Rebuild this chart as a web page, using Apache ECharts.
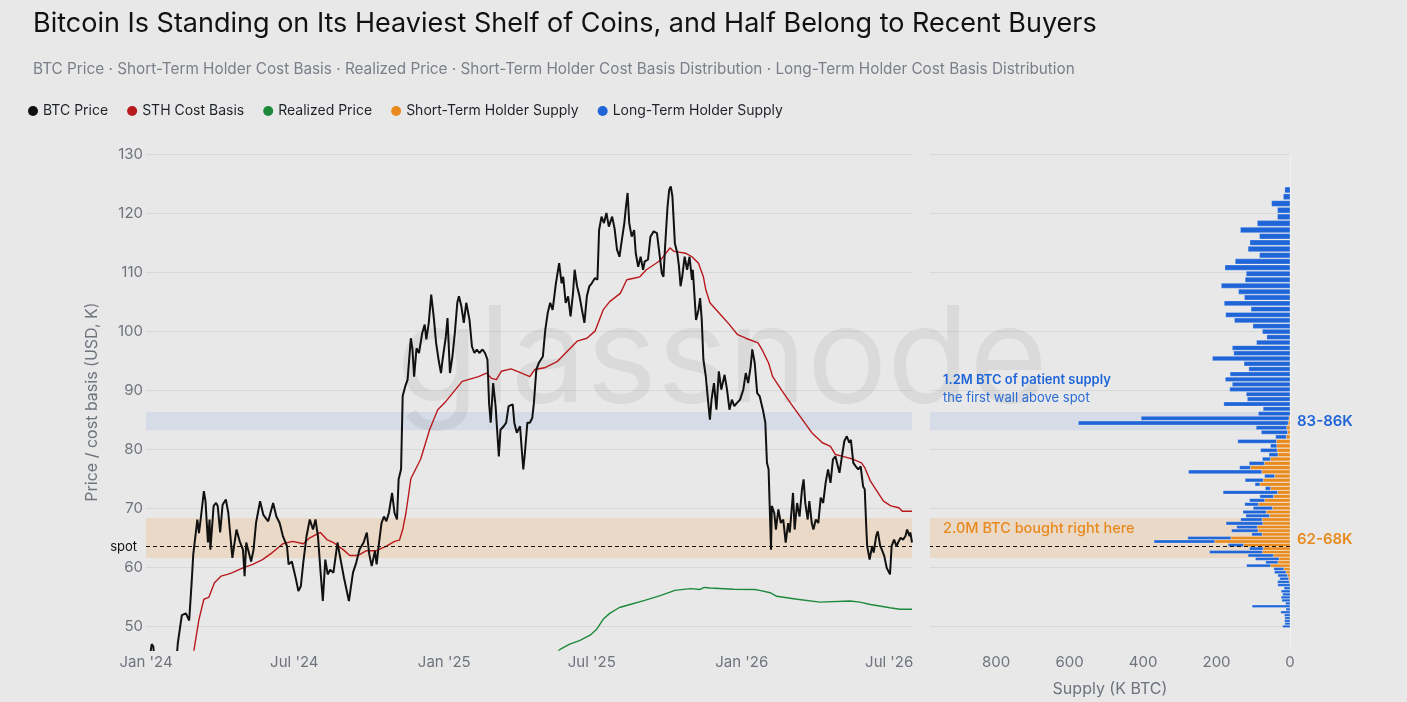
<!DOCTYPE html>
<html>
<head>
<meta charset="utf-8">
<title>Bitcoin heaviest shelf of coins</title>
<script src="https://cdn.jsdelivr.net/npm/echarts@6/dist/echarts.min.js"></script>
<style>
  html, body { margin: 0; padding: 0; background: #e8e8e8; }
  #chart { width: 1407px; height: 702px; }
</style>
</head>
<body>
<div id="chart"></div>
<script>
// ---- data (K USD, K BTC) ----
const btcDates = [
  '2024-01-01','2024-01-05','2024-01-08','2024-01-10','2024-01-12','2024-01-18','2024-01-23','2024-01-29','2024-02-05','2024-02-08',
  '2024-02-09','2024-02-12','2024-02-14','2024-02-19','2024-02-23','2024-02-26','2024-02-28','2024-03-01','2024-03-04','2024-03-06',
  '2024-03-09','2024-03-12','2024-03-14','2024-03-17','2024-03-19','2024-03-20','2024-03-24','2024-03-27','2024-03-29','2024-04-01',
  '2024-04-04','2024-04-08','2024-04-11','2024-04-16','2024-04-21','2024-04-25','2024-04-29','2024-05-01','2024-05-03','2024-05-09',
  '2024-05-12','2024-05-15','2024-05-20','2024-05-24','2024-05-30','2024-06-05','2024-06-09','2024-06-13','2024-06-17','2024-06-22',
  '2024-06-24','2024-06-28','2024-07-03','2024-07-06','2024-07-09','2024-07-12','2024-07-16','2024-07-20','2024-07-24','2024-07-27',
  '2024-07-30','2024-08-02','2024-08-05','2024-08-08','2024-08-11','2024-08-14','2024-08-18','2024-08-23','2024-08-26','2024-08-31',
  '2024-09-02','2024-09-06','2024-09-11','2024-09-15','2024-09-19','2024-09-24','2024-09-28','2024-10-01','2024-10-04','2024-10-08',
  '2024-10-10','2024-10-13','2024-10-16','2024-10-19','2024-10-22','2024-10-25','2024-10-29','2024-11-01','2024-11-04','2024-11-06',
  '2024-11-09','2024-11-11','2024-11-14','2024-11-17','2024-11-21','2024-11-23','2024-11-25','2024-11-28','2024-12-01','2024-12-05',
  '2024-12-08','2024-12-10','2024-12-13','2024-12-16','2024-12-19','2024-12-22','2024-12-25','2024-12-28','2024-12-30','2025-01-03',
  '2025-01-05','2025-01-08','2025-01-11','2025-01-14','2025-01-17','2025-01-19','2025-01-22','2025-01-25','2025-01-28','2025-02-01',
  '2025-02-04','2025-02-07','2025-02-10','2025-02-13','2025-02-17','2025-02-20','2025-02-23','2025-02-25','2025-02-27','2025-03-02',
  '2025-03-05','2025-03-09','2025-03-11','2025-03-15','2025-03-18','2025-03-21','2025-03-26','2025-03-28','2025-03-31','2025-04-04',
  '2025-04-07','2025-04-08','2025-04-10','2025-04-13','2025-04-16','2025-04-19','2025-04-21','2025-04-24','2025-04-27','2025-05-02',
  '2025-05-05','2025-05-08','2025-05-11','2025-05-14','2025-05-18','2025-05-22','2025-05-25','2025-05-27','2025-05-30','2025-06-02',
  '2025-06-05','2025-06-08','2025-06-10','2025-06-13','2025-06-16','2025-06-19','2025-06-22','2025-06-25','2025-06-28','2025-07-01',
  '2025-07-05','2025-07-08','2025-07-10','2025-07-13','2025-07-16','2025-07-19','2025-07-22','2025-07-26','2025-07-29','2025-08-01',
  '2025-08-04','2025-08-07','2025-08-10','2025-08-12','2025-08-14','2025-08-16','2025-08-19','2025-08-22','2025-08-24','2025-08-27',
  '2025-08-30','2025-09-02','2025-09-04','2025-09-08','2025-09-11','2025-09-15','2025-09-19','2025-09-22','2025-09-25','2025-09-27',
  '2025-09-29','2025-10-02','2025-10-04','2025-10-06','2025-10-08','2025-10-11','2025-10-14','2025-10-16','2025-10-18','2025-10-20',
  '2025-10-23','2025-10-26','2025-10-29','2025-11-01','2025-11-02','2025-11-06','2025-11-09','2025-11-11','2025-11-13','2025-11-15',
  '2025-11-18','2025-11-21','2025-11-23','2025-11-25','2025-11-28','2025-12-01','2025-12-04','2025-12-07','2025-12-11','2025-12-14',
  '2025-12-17','2025-12-20','2025-12-23','2025-12-26','2025-12-30','2026-01-03','2026-01-06','2026-01-09','2026-01-12','2026-01-14',
  '2026-01-17','2026-01-20','2026-01-23','2026-01-27','2026-01-30','2026-02-01','2026-02-03','2026-02-06','2026-02-07','2026-02-10',
  '2026-02-12','2026-02-15','2026-02-18','2026-02-21','2026-02-24','2026-02-27','2026-03-01','2026-03-05','2026-03-07','2026-03-10',
  '2026-03-13','2026-03-16','2026-03-18','2026-03-20','2026-03-23','2026-03-25','2026-03-28','2026-03-30','2026-04-02','2026-04-05',
  '2026-04-08','2026-04-11','2026-04-14','2026-04-17','2026-04-20','2026-04-23','2026-04-26','2026-04-29','2026-05-01','2026-05-04',
  '2026-05-07','2026-05-10','2026-05-13','2026-05-15','2026-05-18','2026-05-21','2026-05-24','2026-05-27','2026-05-30','2026-06-01',
  '2026-06-03','2026-06-04','2026-06-07','2026-06-10','2026-06-12','2026-06-15','2026-06-17','2026-06-20','2026-06-22','2026-06-25',
  '2026-06-28','2026-06-30','2026-07-02','2026-07-04','2026-07-07','2026-07-10','2026-07-12','2026-07-15','2026-07-18','2026-07-21',
  '2026-07-23','2026-07-26','2026-07-27','2026-07-29'
];
const btcPrice = [
  44.2,44.1,47.0,46.6,42.8,41.3,39.9,43.3,42.6,45.3,
  47.1,50.0,51.9,52.2,51.0,57.4,62.2,62.2,68.1,65.8,
  69.2,72.9,71.2,64.2,68.1,63.0,70.4,70.9,70.4,65.9,
  70.6,71.5,69.2,61.6,66.4,64.4,63.0,58.5,64.2,61.0,
  63.0,67.5,71.2,68.9,67.8,70.9,68.6,67.5,65.3,63.6,
  60.5,61.0,58.0,56.0,56.8,60.8,65.3,68.1,66.4,68.1,
  65.3,59.6,54.3,61.3,58.8,59.6,59.1,64.2,61.9,58.2,
  58.0,54.3,59.1,60.8,63.0,64.2,65.9,62.2,60.2,62.8,
  60.5,64.2,67.5,68.6,67.8,69.2,72.6,69.2,68.1,74.9,
  76.6,89.0,90.6,91.8,98.8,96.9,92.3,97.1,96.3,99.7,
  101.1,98.6,101.4,106.2,102.5,98.0,95.2,92.9,95.2,99.1,
  102.2,92.9,95.7,99.7,104.8,105.9,104.2,101.4,104.8,101.9,
  97.4,96.3,96.9,96.3,96.9,96.3,95.2,87.8,84.5,91.2,
  87.3,78.8,83.3,83.9,84.5,87.3,87.6,84.5,82.8,83.9,
  78.3,76.6,79.4,84.5,84.5,85.3,87.8,93.5,94.6,95.7,
  100.2,103.1,104.8,103.6,108.1,111.5,108.1,109.2,104.8,105.9,
  102.5,106.4,110.4,107.6,105.9,103.6,101.4,105.9,107.6,108.1,
  109.0,108.7,117.1,119.4,118.3,120.0,117.7,119.4,117.4,113.8,
  112.6,115.5,118.3,121.1,123.4,118.3,116.0,117.1,113.2,110.9,
  112.6,110.4,111.8,112.1,116.0,116.9,116.6,113.2,109.8,109.2,
  114.3,121.1,123.9,124.5,122.8,114.9,113.2,111.0,107.6,109.2,
  112.6,110.4,112.6,108.7,110.4,101.9,103.6,105.6,101.9,95.2,
  92.3,87.8,85.0,88.4,91.2,86.7,93.2,90.1,92.6,90.1,
  86.7,88.4,87.3,87.8,88.4,90.1,92.9,91.2,94.0,96.9,
  94.6,89.5,89.0,86.7,84.5,77.7,76.6,63.0,70.4,69.2,
  66.4,69.8,67.5,68.1,64.2,67.5,65.9,72.6,66.4,70.9,
  68.6,73.2,74.9,70.9,68.1,71.2,67.5,66.4,68.1,67.5,
  71.8,70.9,74.3,76.6,74.3,78.3,78.8,77.1,76.0,78.8,
  81.4,82.2,81.1,81.6,77.7,77.1,76.6,77.1,73.7,73.2,
  66.4,63.6,61.3,63.6,62.5,65.3,66.1,63.6,63.0,61.9,
  59.9,59.9,58.8,63.6,64.7,63.6,64.2,65.0,64.7,65.3,
  66.4,65.3,65.9,64.2
];

const sthDates = [
  '2024-02-22','2024-02-29','2024-03-06','2024-03-12','2024-03-18','2024-03-25','2024-04-02','2024-04-10','2024-04-16','2024-04-29',
  '2024-05-11','2024-05-23','2024-06-04','2024-06-17','2024-06-29','2024-07-12','2024-07-20','2024-08-02','2024-08-10','2024-08-18',
  '2024-08-30','2024-09-07','2024-09-17','2024-09-27','2024-10-09','2024-10-22','2024-11-01','2024-11-07','2024-11-11','2024-11-15',
  '2024-11-21','2024-12-03','2024-12-14','2024-12-24','2025-01-03','2025-01-23','2025-02-12','2025-02-22','2025-02-28','2025-03-06',
  '2025-03-12','2025-03-24','2025-04-06','2025-04-16','2025-04-22','2025-05-04','2025-05-20','2025-06-01','2025-06-13','2025-06-25',
  '2025-07-05','2025-07-15','2025-07-23','2025-08-05','2025-08-13','2025-08-23','2025-08-29','2025-09-06','2025-09-18','2025-09-24',
  '2025-09-30','2025-10-05','2025-10-10','2025-10-24','2025-11-01','2025-11-09','2025-11-15','2025-11-18','2025-11-23','2025-12-04',
  '2025-12-17','2025-12-27','2026-01-06','2026-01-21','2026-01-27','2026-02-03','2026-02-08','2026-02-20','2026-03-03','2026-03-15',
  '2026-03-28','2026-04-10','2026-04-20','2026-04-26','2026-05-05','2026-05-18','2026-05-28','2026-06-01','2026-06-08','2026-06-16',
  '2026-06-24','2026-07-03','2026-07-13','2026-07-17','2026-07-29'
];
const sthCost = [
  42.0,46.1,51.2,54.6,54.9,57.4,58.5,58.8,59.1,59.9,
  60.5,61.3,62.5,64.0,64.4,64.0,65.0,65.9,64.7,64.2,
  63.0,62.0,62.0,62.8,62.8,63.6,64.4,64.6,66.4,69.2,
  75.0,78.3,83.3,86.7,88.1,91.5,92.3,92.9,92.0,91.8,
  93.2,93.6,92.9,92.3,93.5,93.8,94.9,96.6,98.3,98.8,
  100.0,103.6,105.0,106.4,108.7,109.0,109.2,110.4,111.5,112.1,
  113.2,114.1,113.5,113.2,112.6,111.5,109.2,107.0,104.8,103.1,
  101.1,99.4,98.8,98.0,96.6,94.6,92.3,89.8,87.6,85.3,
  82.8,81.1,80.5,79.1,78.8,78.3,77.7,76.9,74.6,72.9,
  71.2,70.4,70.1,69.5,69.5
];

const rpDates = [
  '2025-05-15','2025-05-23','2025-06-04','2025-06-16','2025-06-29','2025-07-07','2025-07-15','2025-07-23','2025-08-04','2025-08-17',
  '2025-09-04','2025-09-23','2025-10-11','2025-10-30','2025-11-11','2025-11-16','2025-11-23','2025-12-22','2026-01-17','2026-01-23',
  '2026-02-05','2026-02-13','2026-03-10','2026-04-07','2026-05-14','2026-05-26','2026-06-08','2026-07-02','2026-07-14','2026-07-29'
];
const realizedPrice = [
  45.0,46.1,47.0,47.6,48.5,49.5,51.2,52.2,53.2,53.7,
  54.4,55.2,56.1,56.4,56.25,56.6,56.5,56.3,56.25,56.1,
  55.7,55.1,54.6,54.1,54.3,54.1,53.7,53.15,52.9,52.9
];

// cost-basis bins (bin centre price, K USD), bottom to top
const binCenters = [
  50.00,50.47,50.94,51.42,51.91,52.40,52.89,53.39,53.89,54.40,
  54.91,55.42,55.94,56.47,57.00,57.54,58.08,58.62,59.17,59.73,
  60.29,60.86,61.43,62.01,62.59,63.18,63.77,64.37,64.98,65.59,
  66.21,66.82,67.45,68.09,68.73,69.37,70.03,70.68,71.35,72.02,
  72.70,73.37,74.06,74.76,75.46,76.17,76.89,77.61,78.34,79.08,
  79.82,80.57,81.33,82.09,82.87,83.65,84.43,85.23,86.03,86.84,
  87.65,88.48,89.31,90.15,91.00,91.85,92.72,93.59,94.47,95.36,
  96.25,97.16,98.07,98.99,99.92,100.86,101.81,102.77,103.73,104.71,
  105.69,106.69,107.69,108.70,109.72,110.76,111.80,112.85,113.91,114.98,
  116.06,117.14,118.25,119.36,120.48,121.61,122.76,123.91
];
const sthSupply = [
  0,0,0,0,0,0,0,0,0,0,
  0,0,0,0,0,2,4,7,11,17,
  53,33,30,45,75,73,127,205,161,76,
  87,89,74,76,56,65,48,86,69,45,
  34,53,82,73,42,77,108,70,53,33,
  35,36,37,10,7,9,5,3,0,0,
  0,0,0,0,0,0,0,0,0,0,
  0,0,0,0,0,0,0,0,0,0,
  0,0,0,0,0,0,0,0,0,0,
  0,0,0,0,0,0,0,0
];
const lthSupply = [
  20,14,15,14,15,25,11,103,12,22,
  24,20,24,16,33,32,24,26,31,27,
  65,33,64,69,144,37,41,165,117,28,
  72,56,100,58,64,63,52,37,41,37,
  148,14,13,49,27,199,29,41,22,24,
  45,17,105,29,71,83,571,402,86,73,
  180,116,119,164,157,176,163,112,125,211,
  153,157,91,63,75,101,151,175,106,179,
  124,140,187,122,119,177,149,83,114,109,
  83,135,89,34,34,50,18,14
];

const xTickDates = ['2024-01-01','2024-07-01','2025-01-01','2025-07-01','2026-01-01','2026-07-01'];
const spotPrice = 63.5;
const lthWall = [83.2, 86.3];   // 83-86K band
const sthShelf = [61.6, 68.35]; // 62-68K band

// ---- helpers ----
const FONT = 'Inter, "Noto Sans", sans-serif';
const MONTHS = ['Jan','Feb','Mar','Apr','May','Jun','Jul','Aug','Sep','Oct','Nov','Dec'];
const BIN_STEP = 0.0094;
function toTs(s) {
  const p = s.split('-').map(Number);
  return Date.UTC(p[0], p[1] - 1, p[2]);
}
function zip(dates, vals) { return dates.map((d, i) => [toTs(d), vals[i]]); }

const sthBars = binCenters.map((c, i) => [c, 0, sthSupply[i]]);
const lthBars = binCenters.map((c, i) => [c, sthSupply[i], sthSupply[i] + lthSupply[i]]);

function renderBin(params, api) {
  const c = api.value(0), from = api.value(1), to = api.value(2);
  if (!(to > from)) return null;
  const h = c * BIN_STEP * 0.42;
  const a = api.coord([from, c + h]);
  const b = api.coord([to, c - h]);
  return {
    type: 'rect',
    shape: { x: Math.min(a[0], b[0]), y: a[1], width: Math.abs(b[0] - a[0]), height: b[1] - a[1] },
    style: api.style({ stroke: 'rgba(255,255,255,0.45)', lineWidth: 0.6 })
  };
}

const GRID_TOP = 154, GRID_BOTTOM = 52;
const labelGrey = '#6e737c';

const chart = echarts.init(document.getElementById('chart'));
chart.setOption({
  animation: false,
  backgroundColor: '#e8e8e8',
  textStyle: { fontFamily: FONT },
  title: [
    { text: 'Bitcoin Is Standing on Its Heaviest Shelf of Coins, and Half Belong to Recent Buyers',
      left: 28, top: 5, textStyle: { fontSize: 27, fontWeight: 'normal', color: '#111111', fontFamily: FONT } },
    { text: 'BTC Price · Short-Term Holder Cost Basis · Realized Price · Short-Term Holder Cost Basis Distribution · Long-Term Holder Cost Basis Distribution',
      left: 28, top: 57, textStyle: { fontSize: 15.3, fontWeight: 'normal', color: '#7a7f88', fontFamily: FONT } }
  ],
  legend: {
    left: 23, top: 99, icon: 'circle', itemWidth: 10, itemHeight: 10, itemGap: 19,
    textStyle: { fontSize: 14, color: '#1f2329', fontFamily: FONT },
    data: ['BTC Price', 'STH Cost Basis', 'Realized Price', 'Short-Term Holder Supply', 'Long-Term Holder Supply']
  },
  graphic: [
    { type: 'text', silent: true, z: 1.5, x: 722, y: 362,
      style: { text: 'glassnode', font: '400 134px Inter', fill: 'rgba(0,0,0,0.06)', align: 'center', verticalAlign: 'middle' } },
    { type: 'text', silent: true, z: 10, x: 943, y: 380,
      style: { text: '1.2M BTC of patient supply', font: '600 13px Inter', fill: '#1f65d8', align: 'left', verticalAlign: 'middle' } },
    { type: 'text', silent: true, z: 10, x: 943, y: 398,
      style: { text: 'the first wall above spot', font: '400 13px Inter', fill: '#2a6bd6', align: 'left', verticalAlign: 'middle' } },
    { type: 'text', silent: true, z: 10, x: 943, y: 529,
      style: { text: '2.0M BTC bought right here', font: '500 14.5px Inter', fill: '#e8891d', align: 'left', verticalAlign: 'middle' } }
  ],
  grid: [
    { left: 146, right: 495, top: GRID_TOP, bottom: GRID_BOTTOM, outerBoundsMode: 'none' },
    { left: 930, right: 117, top: GRID_TOP, bottom: GRID_BOTTOM, outerBoundsMode: 'none' }
  ],
  xAxis: [
    {
      type: 'value', gridIndex: 0, min: toTs('2024-01-01'), max: toTs('2026-07-29'), scale: true,
      axisLine: { show: false }, axisTick: { show: false }, splitLine: { show: false },
      axisLabel: {
        color: labelGrey, fontSize: 15, margin: 5,
        customValues: xTickDates.map(toTs),
        formatter: v => { const d = new Date(v); return MONTHS[d.getUTCMonth()] + " '" + String(d.getUTCFullYear()).slice(2); }
      }
    },
    {
      type: 'value', gridIndex: 1, inverse: true, min: 0, max: 980, interval: 200,
      axisLine: { show: false }, axisTick: { show: false }, splitLine: { show: false },
      axisLabel: { color: labelGrey, fontSize: 15, margin: 5, showMaxLabel: false },
      name: 'Supply (K BTC)', nameLocation: 'middle', nameGap: 31,
      nameTextStyle: { color: labelGrey, fontSize: 16 }
    }
  ],
  yAxis: [
    {
      type: 'value', gridIndex: 0, min: 46, max: 130, splitNumber: 8,
      axisLine: { show: false }, axisTick: { show: false },
      splitLine: { show: true, showMinLine: false, lineStyle: { color: '#d8d8d8' } },
      axisLabel: { color: labelGrey, fontSize: 15, margin: 3, showMinLabel: false },
      name: 'Price / cost basis (USD, K)', nameLocation: 'middle', nameGap: 46,
      nameTextStyle: { color: labelGrey, fontSize: 16 }
    },
    {
      type: 'value', gridIndex: 1, min: 46, max: 130, splitNumber: 8, position: 'right',
      axisLine: { show: true, lineStyle: { color: 'rgba(255,255,255,0.45)' } }, axisTick: { show: false },
      splitLine: { show: true, showMinLine: false, lineStyle: { color: '#d8d8d8' } },
      axisLabel: { show: false }
    }
  ],
  series: [
    {
      name: 'BTC Price', type: 'line', xAxisIndex: 0, yAxisIndex: 0, z: 5,
      data: zip(btcDates, btcPrice), symbol: 'none', clip: true,
      itemStyle: { color: '#111111' }, lineStyle: { color: '#111111', width: 2 },
      markArea: {
        silent: true,
        data: [
          [{ yAxis: lthWall[0], itemStyle: { color: '#d5dce7' } }, { yAxis: lthWall[1] }],
          [{ yAxis: sthShelf[0], itemStyle: { color: '#ead9c6' } }, { yAxis: sthShelf[1] }]
        ]
      },
      markLine: {
        silent: true, symbol: ['none', 'none'],
        lineStyle: { color: '#111111', type: [4, 3], width: 1.2 },
        label: { show: true, position: 'start', formatter: 'spot', color: '#111111', fontSize: 13, distance: 9 },
        data: [{ yAxis: spotPrice }]
      }
    },
    {
      name: 'STH Cost Basis', type: 'line', xAxisIndex: 0, yAxisIndex: 0, z: 4,
      data: zip(sthDates, sthCost), symbol: 'none', clip: true,
      itemStyle: { color: '#b8191d' }, lineStyle: { color: '#b8191d', width: 1.4 }
    },
    {
      name: 'Realized Price', type: 'line', xAxisIndex: 0, yAxisIndex: 0, z: 4,
      data: zip(rpDates, realizedPrice), symbol: 'none', clip: true,
      itemStyle: { color: '#1d8a3b' }, lineStyle: { color: '#1d8a3b', width: 1.4 }
    },
    {
      name: 'Short-Term Holder Supply', type: 'custom', xAxisIndex: 1, yAxisIndex: 1, z: 3,
      renderItem: renderBin, encode: { y: 0, x: [1, 2] }, data: sthBars,
      itemStyle: { color: '#e98a1d' },
      markArea: {
        silent: true,
        data: [
          [{ yAxis: lthWall[0], itemStyle: { color: '#d5dce7' },
             label: { show: true, position: 'right', distance: 7, formatter: '83-86K', color: '#1f65d8', fontSize: 15, fontWeight: 600 } },
           { yAxis: lthWall[1] }],
          [{ yAxis: sthShelf[0], itemStyle: { color: '#ead9c6' },
             label: { show: true, position: 'right', distance: 7, offset: [0, 2], formatter: '62-68K', color: '#e8891d', fontSize: 15, fontWeight: 600 } },
           { yAxis: sthShelf[1] }]
        ]
      },
      markLine: {
        silent: true, symbol: ['none', 'none'],
        lineStyle: { color: '#111111', type: [4, 3], width: 1.2 },
        label: { show: false },
        data: [{ yAxis: spotPrice }]
      }
    },
    {
      name: 'Long-Term Holder Supply', type: 'custom', xAxisIndex: 1, yAxisIndex: 1, z: 3,
      renderItem: renderBin, encode: { y: 0, x: [1, 2] }, data: lthBars,
      itemStyle: { color: '#1f65d8' }
    }
  ]
});
</script>
</body>
</html>
